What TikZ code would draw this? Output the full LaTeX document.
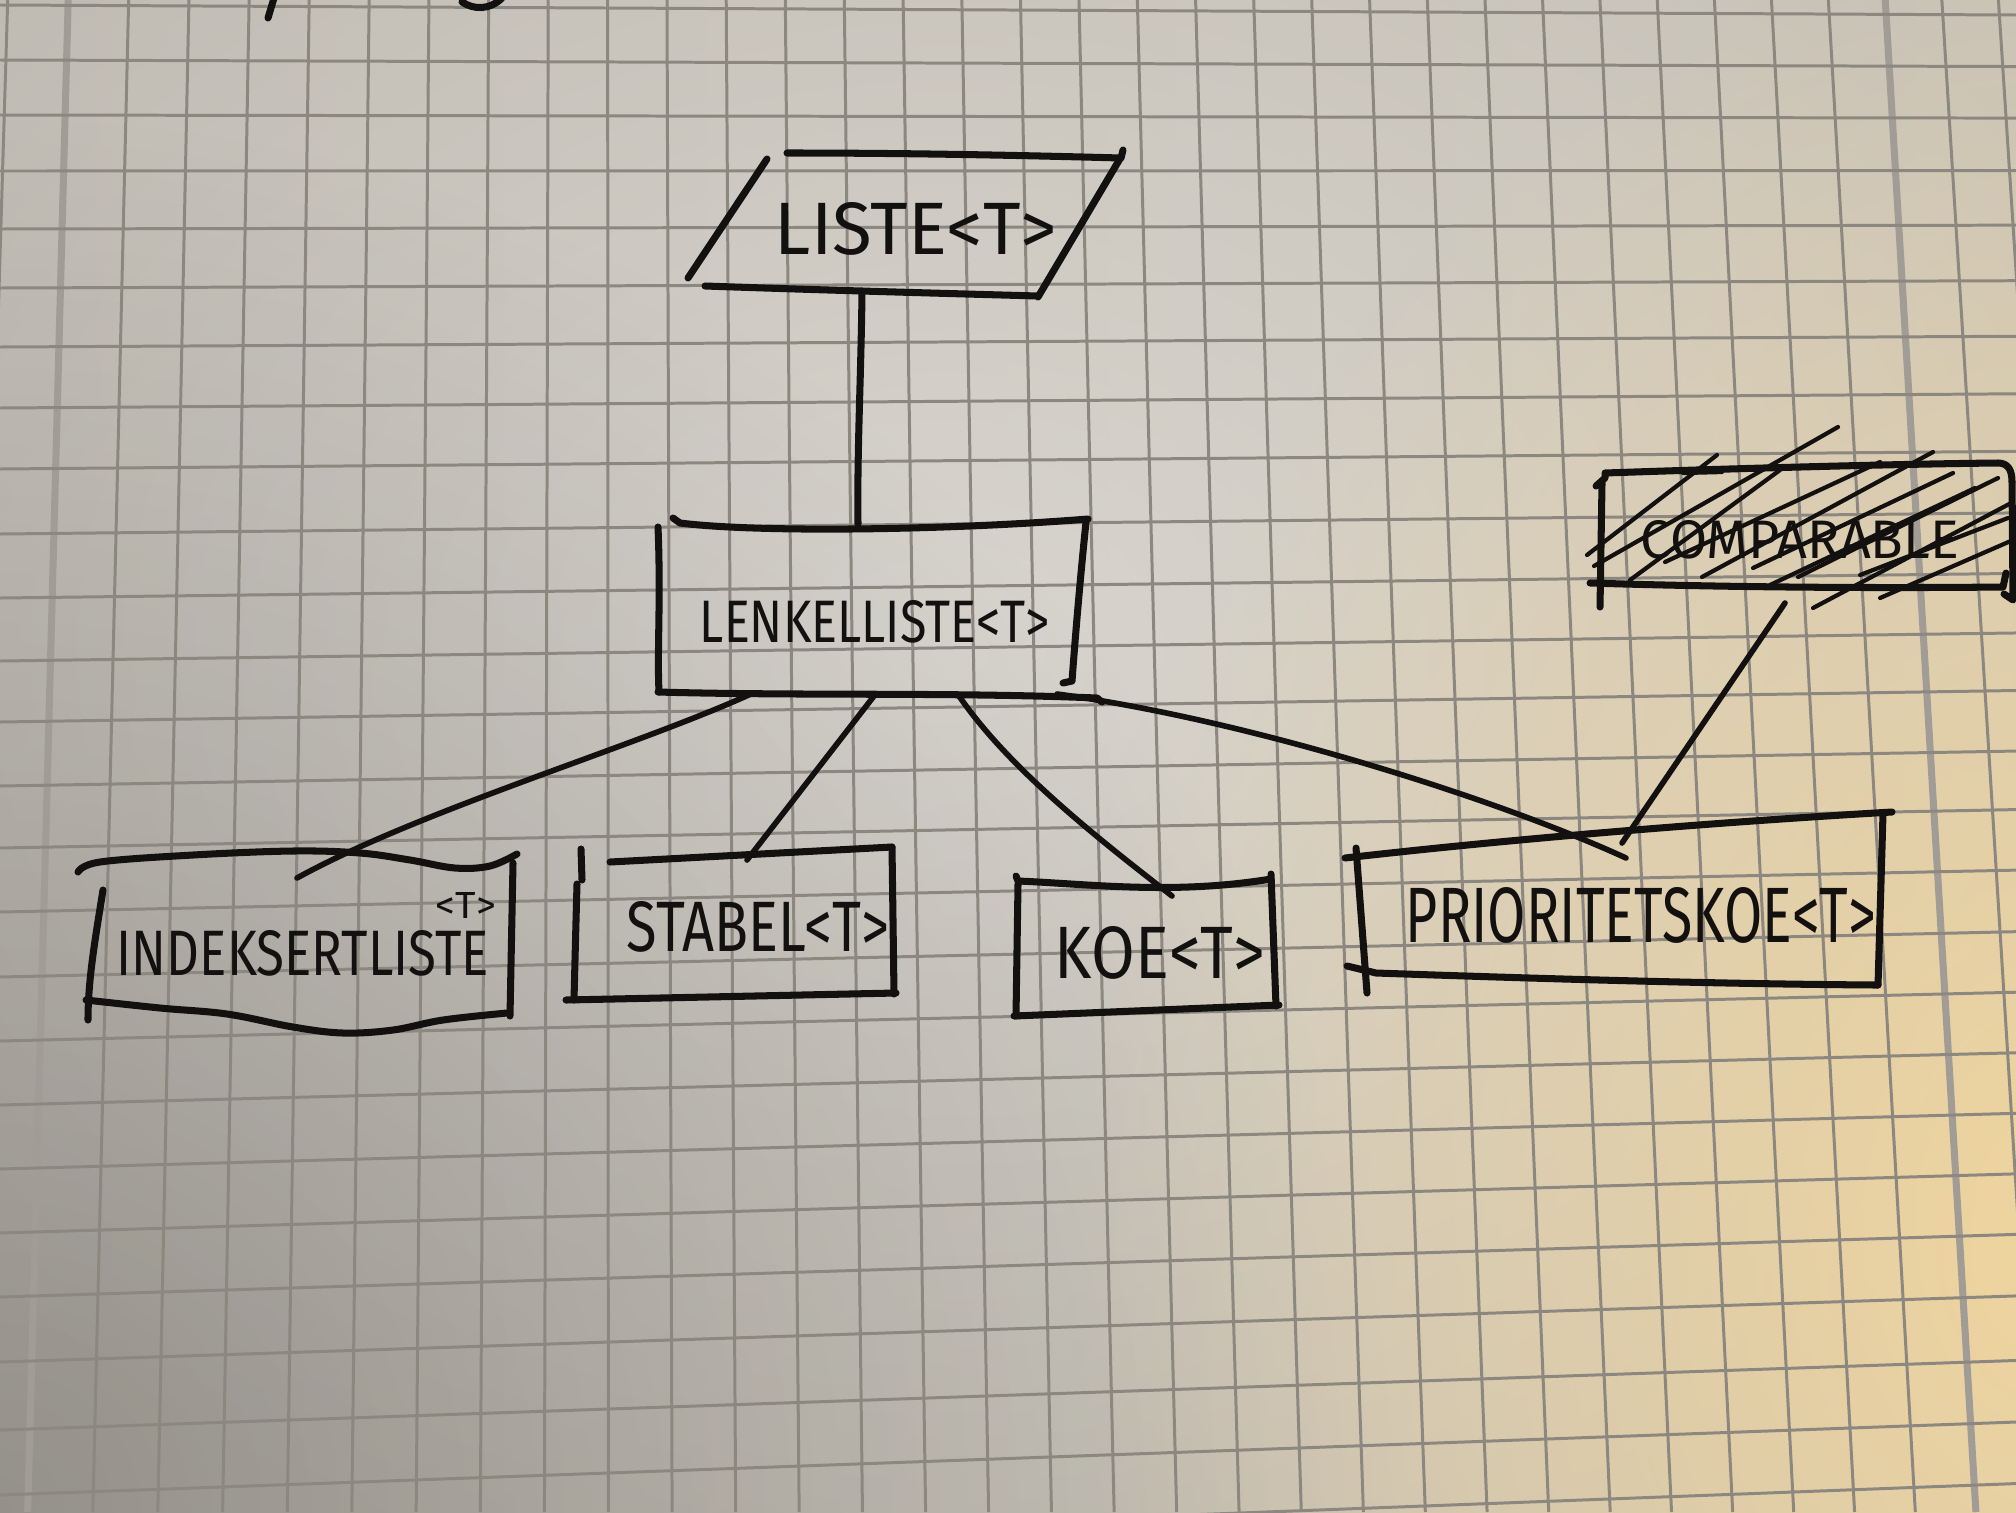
\documentclass[tikz,border=0pt]{standalone}
\usepackage{fontspec}
\setsansfont{Fira Sans}
\usetikzlibrary{fadings}

% paper, grid and ink colours
\definecolor{paperL}{HTML}{BFBAB2}
\definecolor{paperR}{HTML}{C9C3B8}
\definecolor{warm}{HTML}{F2D69C}
\definecolor{gridc}{HTML}{8C8880}
\definecolor{gridthick}{HTML}{A19D96}
\definecolor{inkc}{HTML}{131110}

\tikzfading[name=softglow, inner color=transparent!0, outer color=transparent!100]

% hand-lettered label: width and height in cm
\newcommand\hw[3]{\resizebox{#1cm}{#2cm}{\sffamily #3}}

\begin{document}
\begin{tikzpicture}[x=0.01cm, y=-0.01cm,
  grid/.style={draw=gridc, line width=0.85pt},
  gridbold/.style={draw=gridthick, line width=2pt},
  ink/.style={draw=inkc, line width=2pt, line cap=round, line join=round},
  wire/.style={draw=inkc, line width=1.6pt, line cap=round, line join=round},
  hatch/.style={draw=inkc, line width=1.2pt, line cap=round},
  lbl/.style={inner sep=0pt, text=inkc}]

\useasboundingbox (0,0) rectangle (2016,1512);

\begin{scope}
\clip (0,0) rectangle (2016,1512);
% paper with uneven lighting
\shade[left color=paperL, right color=paperR] (0,0) rectangle (2016,1512);
\fill[white, fill opacity=0.35, path fading=softglow] (950,650) ellipse [x radius=13cm, y radius=10cm];
\fill[black, fill opacity=0.22, path fading=softglow] (0,1512) circle [radius=14cm];
\fill[warm, fill opacity=0.95, path fading=softglow] (2070,1240) ellipse [x radius=10cm, y radius=13cm];

% squared paper
\foreach \i in {0,...,34}{
  \pgfmathsetmacro\xt{7.7+60.6*\i-0.0603*\i*\i}
  \pgfmathsetmacro\xb{27.7+65.2*(\i-1)-0.076*(\i-1)*(\i-1)}
  \draw[grid] (\xt,0) -- (\xb,1512);
}
\draw[gridbold] (68.2,0) -- (27.7,1512);
\draw[gridbold] (1885.2,0) -- (1975.9,1512);
\foreach \j/\yl in {0/5,1/60,2/115,3/171,4/229,5/288,6/347,7/408,8/469,9/534,
  10/598,11/661,12/722,13/786,14/848,15/912,16/977,17/1041,18/1105,19/1169,
  20/1233,21/1297,22/1362,23/1430,24/1495,25/1560}{
  \pgfmathsetmacro\yr{\yl+10-3.4583*\j}
  \draw[grid] (0,\yl) -- (2016,\yr);
}

% strokes of writing cut off at the top edge
\draw[ink] (274,-2) -- (268,18);
\draw[ink] (462,2) .. controls (474,10) and (490,10) .. (502,-2);
\end{scope}

% ---------- Liste<T> (parallelogram)
\draw[ink] (767,159) -- (688,278);
\draw[ink] (787,153) .. controls (900,153) and (1010,155) .. (1121,158) -- (1123,150);
\draw[ink] (1121,157) -- (1038,297);
\draw[ink] (705,286) .. controls (820,290) and (930,293) .. (1038,296);
\node[lbl] (liste) at (916,229) {\hw{2.82}{0.52}{LISTE<T>}};
\coordinate (liste-s) at (862,291);

% ---------- Lenkeliste<T>
\draw[ink] (673,518) -- (680,523) .. controls (760,533) and (950,530) .. (1088,519);
\draw[ink] (658,527) .. controls (661,600) and (657,650) .. (659,692);
\draw[ink] (658,692) .. controls (800,696) and (950,692) .. (1097,698) -- (1102,702);
\draw[ink] (1086,522) .. controls (1080,580) and (1075,640) .. (1072,681) -- (1063,683);
\node[lbl] (lenk) at (875,622) {\hw{3.50}{0.42}{LENKELLISTE<T>}};
\coordinate (lenk-n)  at (858,524);
\coordinate (lenk-s1) at (753,693);
\coordinate (lenk-s2) at (874,696);
\coordinate (lenk-s3) at (959,696);
\coordinate (lenk-s4) at (1057,694);

% ---------- IndeksertListe<T>
\draw[ink] plot[smooth, tension=0.6] coordinates {(78,872) (100,862) (193,855) (293,851)
  (360,853) (410,860) (455,868) (490,866) (517,854)};
\draw[ink] (103,890) .. controls (95,940) and (88,980) .. (88,1020);
\draw[ink] plot[smooth, tension=0.6] coordinates {(86,1000) (160,1008) (227,1014)
  (293,1027) (343,1033) (393,1030) (443,1020) (507,1013)};
\draw[ink] (513,863) -- (510,1016);
\node[lbl] (indeks) at (303,953) {\hw{3.72}{0.45}{INDEKSERTLISTE}};
\node[lbl] (indeks-t) at (466,905) {\hw{0.60}{0.26}{<T>}};
\coordinate (indeks-n) at (297,878);

% ---------- Stabel<T>
\draw[ink] (610,862) -- (892,847);
\draw[ink] (581,849) -- (582,880);
\draw[ink] (577,884) .. controls (576,920) and (575,960) .. (574,1000);
\draw[ink] (892,847) -- (894,994);
\draw[ink] (566,1000) -- (896,993);
\node[lbl] (stabel) at (758,927) {\hw{2.62}{0.50}{STABEL<T>}};
\coordinate (stabel-n) at (747,860);

% ---------- Koe<T>
\draw[ink] (1016,876) -- (1018,881) .. controls (1090,884) and (1173,895) .. (1271,879);
\draw[ink] (1018,884) -- (1016,1016);
\draw[ink] (1271,874) -- (1276,1006);
\draw[ink] (1014,1016) -- (1279,1005);
\node[lbl] (koe) at (1160,953) {\hw{2.10}{0.52}{KOE<T>}};
\coordinate (koe-n) at (1172,896);

% ---------- PrioritetsKoe<T>
\draw[ink] (1345,858) .. controls (1520,838) and (1720,822) .. (1892,812);
\draw[ink] (1356,848) -- (1367,993);
\draw[ink] (1347,966) -- (1376,973) .. controls (1550,979) and (1720,984) .. (1878,985);
\draw[ink] (1883,813) -- (1878,985);
\node[lbl] (prio) at (1641,915) {\hw{4.70}{0.55}{PRIORITETSKOE<T>}};
\coordinate (prio-n1) at (1626,858);
\coordinate (prio-n2) at (1622,843);

% ---------- Comparable (struck out)
\draw[ink] (1596,486) -- (1605,478) -- (1605,473) .. controls (1750,468) and (1900,464) .. (1998,463)
  .. controls (2008,463) and (2012,470) .. (2012,482);
\draw[ink] (1602,483) -- (1600,607);
\draw[ink] (1590,583) .. controls (1750,588) and (1900,588) .. (2003,587) -- (2006,573);
\draw[ink] (2012,482) -- (2013,600) -- (2004,594);
\node[lbl] (comp) at (1800,540) {\hw{3.18}{0.38}{COMPARABLE}};
\draw[hatch] (1587,555) -- (1717,455);
\draw[hatch] (1594,566) -- (1838,427);
\draw[hatch] (1630,580) -- (1780,470);
\draw[hatch] (1665,562) -- (1880,462);
\draw[hatch] (1702,577) -- (1933,452);
\draw[hatch] (1753,568) -- (1953,473);
\draw[hatch] (1770,585) -- (1975,488);
\draw[hatch] (1798,577) -- (1998,478);
\draw[hatch] (1813,608) -- (2013,502);
\draw[hatch] (1860,575) -- (2008,518);
\draw[hatch] (1880,598) -- (2013,540);
\draw[hatch] (1683,473) -- (1722,472);
\coordinate (comp-s) at (1785,603);

% ---------- connectors
\draw[ink] (liste-s) .. controls (861,380) and (857,450) .. (lenk-n);
\draw[wire] (lenk-s1) .. controls (640,745) and (420,810) .. (indeks-n);
\draw[wire] (lenk-s2) -- (stabel-n);
\draw[wire] (lenk-s3) .. controls (1010,770) and (1100,840) .. (koe-n);
\draw[wire] (lenk-s4) .. controls (1250,720) and (1500,800) .. (prio-n1);
\draw[wire] (comp-s) -- (prio-n2);
\end{tikzpicture}
\end{document}
